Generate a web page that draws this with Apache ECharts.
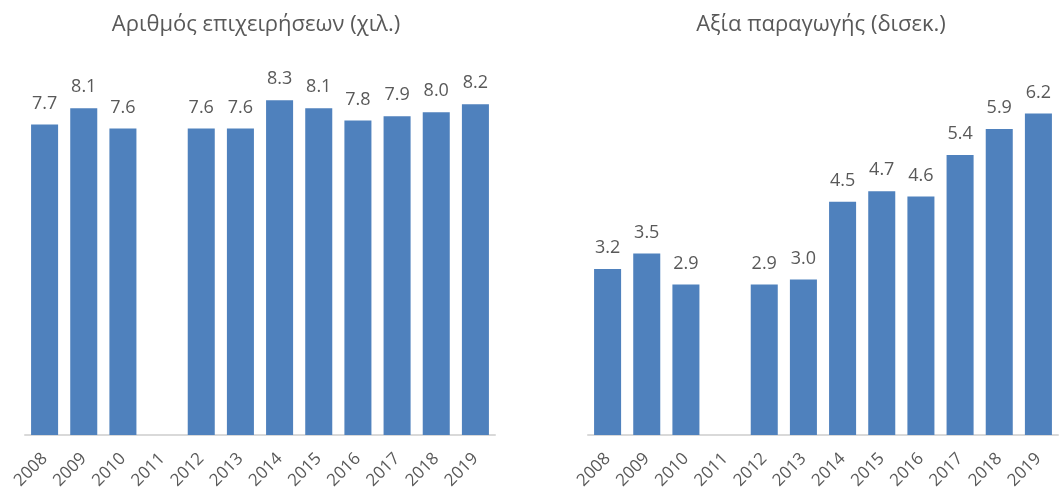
<!DOCTYPE html>
<html>
<head>
<meta charset="utf-8">
<script src="https://cdn.jsdelivr.net/npm/echarts@6/dist/echarts.min.js"></script>
<style>html,body{margin:0;padding:0;background:#fff}#c{width:1060px;height:493px}</style>
</head>
<body>
<div id="c"></div>
<script>
var years = ['2008','2009','2010','2011','2012','2013','2014','2015','2016','2017','2018','2019'];
var titleLeft = 'Αριθμός επιχειρήσεων (χιλ.)';
var titleRight = 'Αξία παραγωγής (δισεκ.)';
var firms = [7.7, 8.1, 7.6, null, 7.6, 7.6, 8.3, 8.1, 7.8, 7.9, 8.0, 8.2];
var production = [3.2, 3.5, 2.9, null, 2.9, 3.0, 4.5, 4.7, 4.6, 5.4, 5.9, 6.2];

var FONT = '"Open Sans", "Noto Sans", sans-serif';
var TXT = '#595959';
var BAR = '#4F81BD';

var chart = echarts.init(document.getElementById('c'), null, {renderer: 'canvas'});
function xAx(i) {
  return {
    type: 'category', gridIndex: i, data: years,
    axisLine: {lineStyle: {color: '#D9D9D9', width: 2}},
    axisTick: {show: false},
    axisLabel: {rotate: 45, color: TXT, fontFamily: FONT, fontSize: 17, margin: 21, interval: 0}
  };
}
function yAx(i, max) {
  return {type: 'value', gridIndex: i, min: 0, max: max, show: false, splitLine: {show: false}};
}
function ser(i, data) {
  return {
    type: 'bar', xAxisIndex: i, yAxisIndex: i, data: data,
    barCategoryGap: '31%',
    itemStyle: {color: BAR},
    label: {show: true, position: 'top', distance: 12, color: TXT, fontFamily: FONT, fontSize: 18,
            formatter: function (p) { return p.value == null ? '' : p.value.toFixed(1); }},
    silent: true
  };
}
chart.setOption({
  animation: false,
  title: [
    {text: titleLeft, left: 251, top: 9, textAlign: 'center',
     textStyle: {color: TXT, fontFamily: FONT, fontSize: 22, fontWeight: 'normal'}},
    {text: titleRight, left: 816, top: 9, textAlign: 'center',
     textStyle: {color: TXT, fontFamily: FONT, fontSize: 22, fontWeight: 'normal'}}
  ],
  grid: [
    {left: 25, width: 470, top: 72, height: 363},
    {left: 588, width: 470, top: 72, height: 363}
  ],
  xAxis: [xAx(0), xAx(1)],
  yAxis: [yAx(0, 9), yAx(1, 7)],
  series: [ser(0, firms), ser(1, production)]
});
</script>
</body>
</html>
